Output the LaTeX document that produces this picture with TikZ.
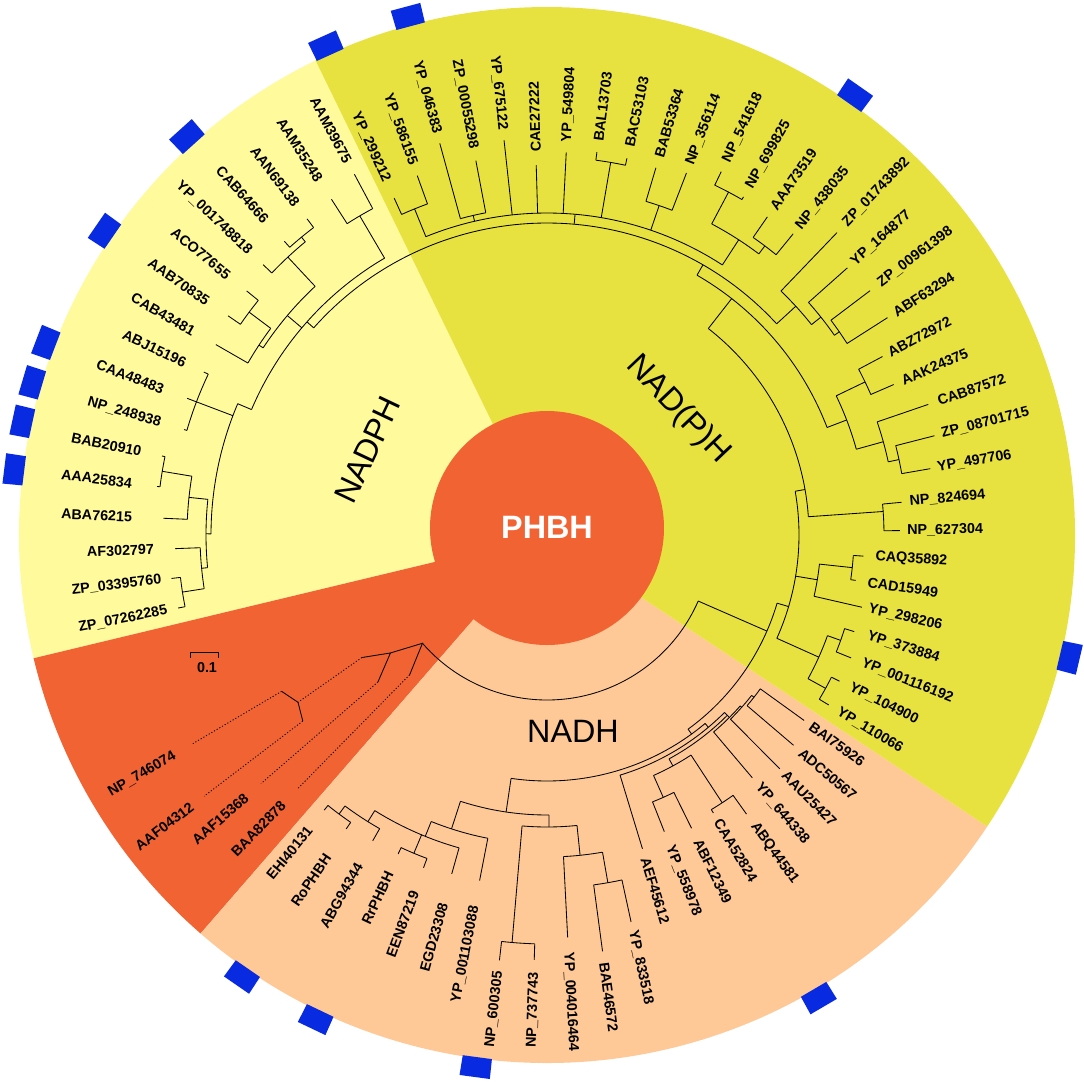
\documentclass[tikz,border=0pt]{standalone}
\usepackage{fontspec}
\setmainfont{Liberation Sans}
\definecolor{nadphColor}{RGB}{255,250,155}
\definecolor{mixedColor}{RGB}{232,226,64}
\definecolor{nadhColor}{RGB}{254,201,150}
\definecolor{phbhColor}{RGB}{242,99,52}
\definecolor{markColor}{RGB}{8,42,224}
\tikzstyle{wheel} = [x=0.025cm, y=0.025cm]
\tikzstyle{branchLine} = [color=black, line width=0.6pt]
\tikzstyle{dottedBranch} = [branchLine, dash pattern=on 0.8pt off 1.4pt]
\tikzstyle{leafText} = [font=\fontsize{10.2}{12}\selectfont\bfseries, inner sep=0pt]
\tikzstyle{groupText} = [font=\fontsize{23}{27}\selectfont]
\tikzstyle{markStyle} = [fill=markColor]
\newcommand{\sector}[3]{\fill [#1] (0,0) -- (#2:528) arc [start angle=#2, end angle=#3, radius=528] -- cycle;}
\newcommand{\cladeArc}[3]{\draw [branchLine] (#2:#1) arc [start angle=#2, end angle=#3, radius=#1];}
\newcommand{\branch}[3]{\draw [branchLine] (#1:#2) -- (#1:#3);}
\newcommand{\clade}[5]{\cladeArc{#1}{#2}{#3}\branch{#4}{#5}{#1}}
\newcommand{\leafOut}[4]{\node [leafText, anchor=west, rotate=#1] (#3) at (#1:#2) {#4};}
\newcommand{\leafIn}[4]{\node [leafText, anchor=east, rotate=#1+180] (#3) at (#1:#2) {#4};}
\newcommand{\blueMark}[1]{\fill [markStyle] ({#1-1.6}:527) -- ({#1-1.6}:547) -- ({#1+1.6}:547) -- ({#1+1.6}:527) -- cycle;}
\begin{document}
\begin{tikzpicture}[wheel]
  \useasboundingbox (-547,-546) rectangle (537,535);
  \sector{nadphColor}{116}{193.5}
  \sector{phbhColor}{193.5}{229}
  \sector{nadhColor}{229}{326.5}
  \sector{mixedColor}{-33.5}{116}
  \fill [phbhColor] (0,7) circle [radius=117];
  \node [font=\fontsize{23}{27}\selectfont\bfseries, text=white] (phbh) at (0,8) {PHBH};
  \node [groupText, rotate=64.7] (nadph) at (-179.5,85) {NADPH};
  \node [groupText, rotate=-46.5] (nadpMixed) at (131,125) {NAD(P)H};
  \node [groupText] (nadh) at (26,-196) {NADH};

  \cladeArc{165}{221}{336.4}
  \branch{-23.6}{165}{240}
  \cladeArc{240}{-54}{-16.5}

  \draw [branchLine] (225.5:196) -- (221:165) -- (217:196) -- (221:224);
  \draw [branchLine] (217:196) -- (213.5:222);
  \draw [dottedBranch] (213.5:222) -- (213.9:300);
  \draw [branchLine] (210.5:308) -- (213.9:300) -- (217.3:307);
  \draw [dottedBranch] (225.5:196) -- (225.5:356);
  \draw [dottedBranch] (221:224) -- (221:379);
  \draw [dottedBranch] (210.5:308) -- (210.5:411);
  \draw [dottedBranch] (217.3:307) -- (217.3:431);

  \clade{252}{-24.2}{10}{-16.5}{240}
  \clade{262}{4}{52}{10}{252}
  \clade{300}{21}{60}{52}{262}
  \clade{312}{42.6}{138.4}{60}{300}
  \clade{322}{57}{112.1}{85}{312}
  \clade{352}{109.85}{114.4}{112.1}{322}
  \branch{114.4}{352}{370}
  \branch{109.85}{352}{382}
  \clade{328}{100.76}{105.31}{103}{322}
  \branch{105.31}{328}{406}
  \branch{100.76}{328}{381}
  \branch{96.21}{322}{397}
  \branch{91.67}{322}{370}
  \branch{87.12}{322}{383}
  \clade{378}{78.02}{82.57}{80.3}{322}
  \branch{82.57}{378}{386}
  \branch{78.02}{378}{385}
  \clade{348}{68.93}{73.48}{71.2}{322}
  \branch{73.48}{348}{383}
  \branch{68.93}{348}{388}
  \clade{352}{53}{62.1}{57}{322}
  \clade{388}{59.84}{64.38}{62.1}{352}
  \branch{64.38}{388}{403}
  \branch{59.84}{388}{391}
  \clade{362}{50.74}{55.29}{53}{352}
  \branch{55.29}{362}{387}
  \branch{50.74}{362}{389}
  \clade{338}{38.5}{46.2}{42.6}{312}
  \branch{46.2}{338}{419}
  \clade{350}{34.8}{41.65}{38.5}{338}
  \branch{41.65}{350}{402}
  \clade{356}{32.55}{37.1}{34.8}{350}
  \branch{37.1}{356}{405}
  \branch{32.55}{356}{404}
  \clade{321}{15.5}{25.7}{21}{300}
  \clade{353}{23.46}{28.01}{25.7}{321}
  \branch{28.01}{353}{380}
  \branch{23.46}{353}{378}
  \clade{349}{12.1}{18.91}{15.5}{321}
  \branch{18.91}{349}{403}
  \clade{360}{9.82}{14.37}{12.1}{349}
  \branch{14.37}{360}{400}
  \branch{9.82}{360}{389}
  \clade{337}{0.72}{5.27}{4}{262}
  \branch{5.27}{337}{356}
  \branch{0.72}{337}{353}
  \clade{274}{-12.92}{-6.1}{-9.4}{252}
  \clade{307}{-8.37}{-3.82}{-6.1}{274}
  \branch{-3.82}{307}{317}
  \branch{-8.37}{307}{312}
  \branch{-12.92}{274}{323}
  \clade{298}{-28.83}{-19.74}{-24.2}{252}
  \clade{312}{-22.01}{-17.46}{-19.74}{298}
  \branch{-17.46}{312}{322}
  \branch{-22.01}{312}{328}
  \clade{318}{-31.1}{-26.56}{-28.83}{298}
  \branch{-26.56}{318}{327}
  \branch{-31.1}{318}{329}

  \clade{321}{120.4}{157}{138.4}{312}
  \clade{370}{118.1}{122.7}{120.4}{321}
  \branch{118.1}{370}{409}
  \branch{122.7}{370}{399}
  \clade{340}{133}{146.6}{139.8}{321}
  \clade{380}{129.5}{136.4}{133}{340}
  \clade{386}{127.2}{131.8}{129.5}{380}
  \branch{127.2}{386}{397}
  \branch{131.8}{386}{394}
  \branch{136.4}{380}{392}
  \clade{345}{143.2}{150.1}{146.6}{340}
  \clade{372}{140.9}{145.5}{143.2}{345}
  \branch{140.9}{372}{387}
  \branch{145.5}{372}{387}
  \branch{150.1}{345}{382}
  \clade{336}{157}{179.8}{157}{321}
  \clade{375}{154.6}{163.8}{159.2}{336}
  \branch{154.6}{375}{380}
  \branch{159.2}{375}{385}
  \branch{163.8}{375}{378}
  \clade{341}{174}{185.5}{179.8}{336}
  \clade{360}{170.6}{177.5}{174}{341}
  \clade{390}{168.4}{172.9}{170.6}{360}
  \branch{168.4}{390}{393}
  \branch{172.9}{390}{393}
  \branch{177.5}{360}{384}
  \clade{347}{182.1}{188.9}{185.5}{341}
  \branch{182.1}{347}{372}
  \clade{369}{186.6}{191.2}{188.9}{347}
  \branch{186.6}{369}{378}
  \branch{191.2}{369}{376}

  \clade{246}{-98.4}{-50}{-54}{240}
  \clade{251}{-73.08}{-45}{-50}{246}
  \branch{-73.08}{251}{328}
  \clade{255}{-61.4}{-45}{-45}{251}
  \clade{263}{-66.1}{-56.8}{-61.4}{255}
  \clade{320}{-59.1}{-54.44}{-56.8}{263}
  \branch{-54.44}{320}{343}
  \branch{-59.1}{320}{324}
  \clade{287}{-68.42}{-63.76}{-66.1}{263}
  \branch{-63.76}{287}{327}
  \branch{-68.42}{287}{319}
  \clade{258}{-49.78}{-41.5}{-45}{255}
  \branch{-49.78}{258}{318}
  \clade{260}{-45.12}{-38.1}{-41.5}{258}
  \branch{-45.12}{260}{330}
  \clade{263}{-40.46}{-35.8}{-38.1}{260}
  \branch{-35.8}{263}{317}
  \branch{-40.46}{263}{324}
  \clade{280}{-108}{-89.6}{-98.4}{246}
  \clade{292}{-94.9}{-84.1}{-89.6}{280}
  \clade{409}{-96.38}{-91.72}{-94.9}{292}
  \branch{-96.38}{409}{428}
  \branch{-91.72}{409}{425}
  \clade{322}{-87.06}{-80.07}{-84.1}{292}
  \branch{-87.06}{322}{403}
  \clade{353}{-82.4}{-77.74}{-80.07}{322}
  \branch{-82.4}{353}{420}
  \branch{-77.74}{353}{396}
  \clade{309}{-112}{-101.04}{-108}{280}
  \branch{-101.04}{309}{352}
  \clade{325}{-122}{-105.7}{-112}{309}
  \branch{-105.7}{325}{352}
  \clade{345}{-115.02}{-110.36}{-112.7}{325}
  \branch{-110.36}{345}{355}
  \branch{-115.02}{345}{352}
  \clade{338}{-126.7}{-119.68}{-122}{325}
  \branch{-119.68}{338}{352}
  \clade{348}{-129}{-124.34}{-126.7}{338}
  \branch{-124.34}{348}{356}
  \branch{-129}{348}{354}

  \leafIn{114.4}{388}{yp299212}{YP\_299212}
  \leafIn{109.85}{394}{yp586155}{YP\_586155}
  \leafIn{105.31}{416}{yp046383}{YP\_046383}
  \leafIn{100.76}{393}{zp00055298}{ZP\_00055298}
  \leafIn{96.21}{407}{yp675122}{YP\_675122}
  \leafOut{91.67}{383}{cae27222}{CAE27222}
  \leafOut{87.12}{393}{yp549804}{YP\_549804}
  \leafOut{82.57}{397}{bal13703}{BAL13703}
  \leafOut{78.02}{397}{bac53103}{BAC53103}
  \leafOut{73.48}{394}{bab53364}{BAB53364}
  \leafOut{68.93}{397}{np356114}{NP\_356114}
  \leafOut{64.38}{414}{np541618}{NP\_541618}
  \leafOut{59.84}{402}{np699825}{NP\_699825}
  \leafOut{55.29}{397}{aaa73519}{AAA73519}
  \leafOut{50.74}{397}{np438035}{NP\_438035}
  \leafOut{46.2}{430}{zp01743892}{ZP\_01743892}
  \leafOut{41.65}{409}{yp164877}{YP\_164877}
  \leafOut{37.1}{416}{zp00961398}{ZP\_00961398}
  \leafOut{32.55}{412}{abf63294}{ABF63294}
  \leafOut{28.01}{387}{abz72972}{ABZ72972}
  \leafOut{23.46}{387}{aak24375}{AAK24375}
  \leafOut{18.91}{413}{cab87572}{CAB87572}
  \leafOut{14.37}{407}{zp08701715}{ZP\_08701715}
  \leafOut{9.82}{396}{yp497706}{YP\_497706}
  \leafOut{5.27}{364}{np824694}{NP\_824694}
  \leafOut{0.72}{360}{np627304}{NP\_627304}
  \leafOut{-3.82}{329}{caq35892}{CAQ35892}
  \leafOut{-8.37}{324}{cad15949}{CAD15949}
  \leafOut{-12.92}{330}{yp298206}{YP\_298206}
  \leafOut{-17.46}{336}{yp373884}{YP\_373884}
  \leafOut{-22.01}{340}{yp001116192}{YP\_001116192}
  \leafOut{-26.56}{339}{yp104900}{YP\_104900}
  \leafOut{-31.1}{340}{yp110066}{YP\_110066}

  \leafOut{-35.8}{325}{bai75926}{BAI75926}
  \leafOut{-40.46}{333}{adc50567}{ADC50567}
  \leafOut{-45.12}{336}{aau25427}{AAU25427}
  \leafOut{-49.78}{327}{yp644338}{YP\_644338}
  \leafOut{-54.44}{355}{abq44581}{ABQ44581}
  \leafOut{-59.1}{332}{caa52824}{CAA52824}
  \leafOut{-63.76}{340}{abf12349}{ABF12349}
  \leafOut{-68.42}{334}{yp558978}{YP\_558978}
  \leafOut{-73.08}{337}{aef45612}{AEF45612}
  \leafOut{-77.74}{405}{yp833518}{YP\_833518}
  \leafOut{-82.4}{431}{bae46572}{BAE46572}
  \leafOut{-87.06}{418}{yp004016464}{YP\_004016464}
  \leafIn{-91.72}{437}{np737743}{NP\_737743}
  \leafIn{-96.38}{439}{np600305}{NP\_600305}
  \leafIn{-101.04}{378}{yp001103088}{YP\_001103088}
  \leafIn{-105.7}{382}{egd23308}{EGD23308}
  \leafIn{-110.36}{380}{een87219}{EEN87219}
  \leafIn{-115.02}{372}{rrphbh}{RrPHBH}
  \leafIn{-119.68}{379}{abg94344}{ABG94344}
  \leafIn{-124.34}{388}{rophbh}{RoPHBH}
  \leafIn{-129}{377}{ehi40131}{EHI40131}

  \leafIn{210.5}{432}{np746074}{NP\_746074}
  \leafIn{217.3}{446}{aaf04312}{AAF04312}
  \leafIn{221}{398}{aaf15368}{AAF15368}
  \leafIn{225.5}{376}{baa82878}{BAA82878}

  \leafIn{191.2}{387}{zp07262285}{ZP\_07262285}
  \leafIn{186.6}{388}{zp03395760}{ZP\_03395760}
  \leafIn{182.1}{393}{af302797}{AF302797}
  \leafIn{177.5}{415}{aba76215}{ABA76215}
  \leafIn{172.9}{418}{aaa25834}{AAA25834}
  \leafIn{168.4}{414}{bab20910}{BAB20910}
  \leafIn{163.8}{402}{np248938}{NP\_248938}
  \leafIn{159.2}{410}{caa48483}{CAA48483}
  \leafIn{154.6}{400}{abj15196}{ABJ15196}
  \leafIn{150.1}{407}{cab43481}{CAB43481}
  \leafIn{145.5}{411}{aab70835}{AAB70835}
  \leafIn{140.9}{410}{aco77655}{ACO77655}
  \leafIn{136.4}{410}{yp001748818}{YP\_001748818}
  \leafIn{131.8}{421}{cab64666}{CAB64666}
  \leafIn{127.2}{414}{aan69138}{AAN69138}
  \leafIn{122.7}{421}{aam35248}{AAM35248}
  \leafIn{118.1}{422}{aam39675}{AAM39675}

  \draw [branchLine] (-357,-123) -- (-357,-117) -- (-329,-117) -- (-329,-123);
  \node [leafText] (scaleText) at (-340,-133) {0.1};

  \foreach \markAngle in {105, 114.3, 132.1, 145.5, 159, 163.5, 167.8, 173, 55, -13.2, -59.6, 235.4, 244.5, 262.4}
    {\blueMark{\markAngle}}
\end{tikzpicture}
\end{document}
